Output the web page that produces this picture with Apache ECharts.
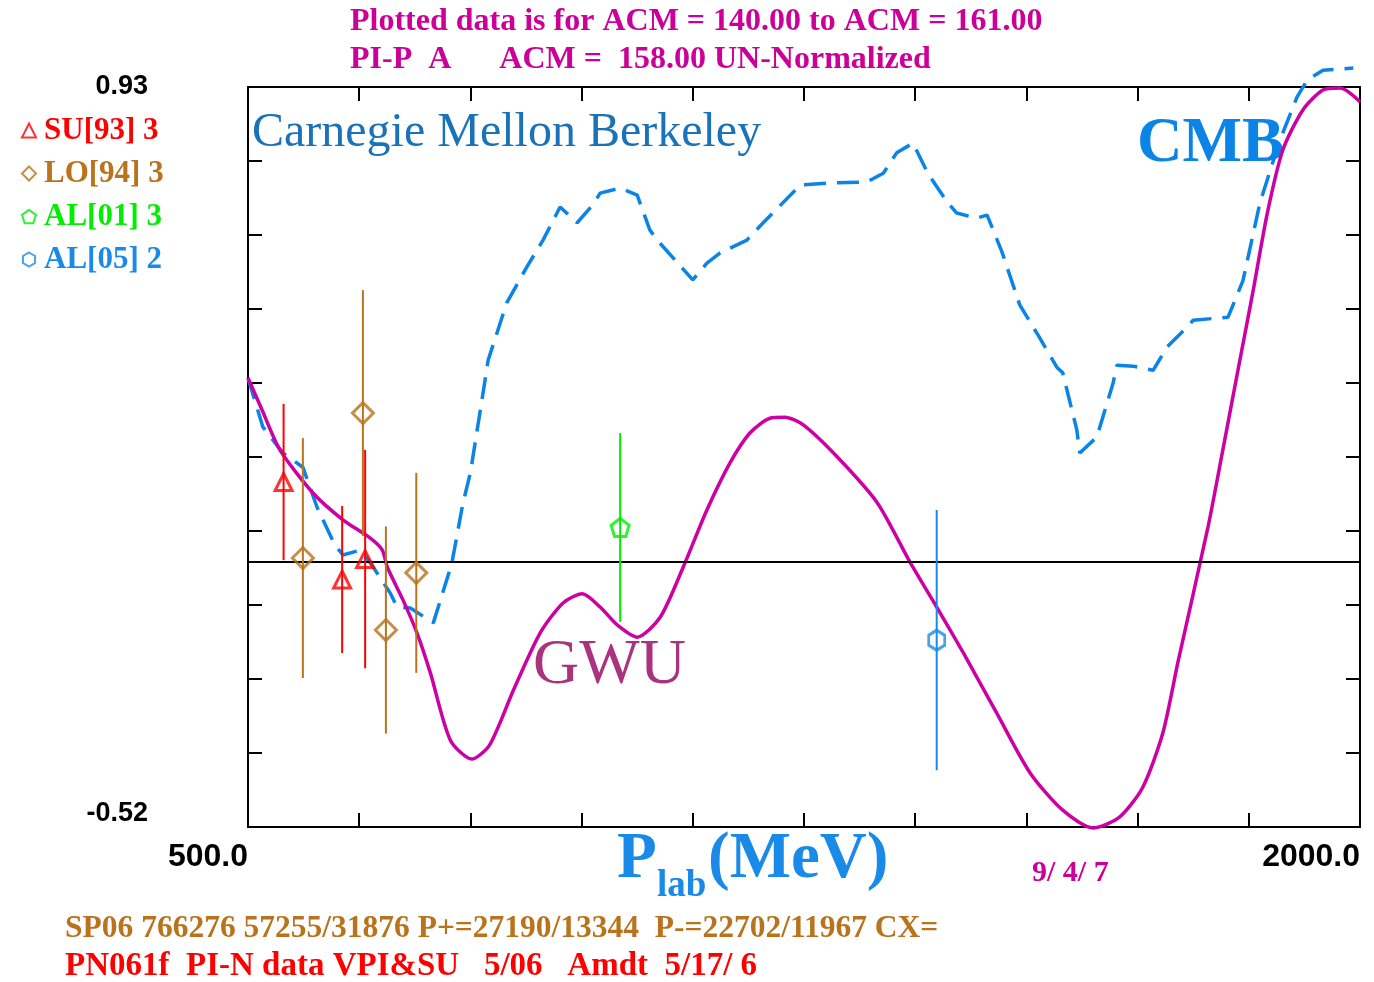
<!DOCTYPE html>
<html>
<head>
<meta charset="utf-8">
<title>PI-P A  ACM = 158.00</title>
<script src="https://cdn.jsdelivr.net/npm/echarts@6/dist/echarts.min.js"></script>
<style>
  html, body { margin: 0; padding: 0; background: #ffffff; }
  #chart { width: 1374px; height: 982px; }
</style>
</head>
<body>
<div id="chart"></div>
<script>
// ---- axis range and end labels ----
const xRange = [500, 2000];
const xStep = 150;
const xTickLabels = ['500.0', '2000.0'];
const yRange = [-0.52, 0.93];
const yStep = 0.145;
const yTickLabels = ['-0.52', '0.93'];

// ---- GWU solution (solid) : P_lab (MeV) vs A ----
const gwuP = [500, 519, 543, 588, 628, 665, 681, 688, 709, 728, 746, 773, 802, 826, 858, 894,
  925, 951, 975, 998, 1025, 1056, 1087, 1119, 1150, 1177, 1204, 1224, 1249, 1295, 1349, 1393,
  1429, 1465, 1510, 1555, 1599, 1640, 1676, 1707, 1734, 1755, 1795, 1815, 1838, 1856, 1875,
  1896, 1923, 1950, 1973, 2000];
const gwuA = [0.360, 0.297, 0.219, 0.134, 0.082, 0.046, 0.023, -0.011, -0.075, -0.140, -0.218,
  -0.350, -0.387, -0.359, -0.252, -0.140, -0.081, -0.063, -0.089, -0.124, -0.148, -0.109,
  -0.011, 0.101, 0.193, 0.252, 0.281, 0.283, 0.268, 0.205, 0.115, -0.001, -0.089, -0.179,
  -0.297, -0.414, -0.487, -0.522, -0.500, -0.442, -0.336, -0.193, 0.068, 0.219, 0.395, 0.532,
  0.683, 0.807, 0.885, 0.924, 0.928, 0.901];

// ---- CMB solution (dashed) ----
const cmbP = [500, 520, 547, 574, 593, 617, 628, 648, 655, 669, 692, 701, 719, 750, 768, 775,
  790, 800, 817, 824, 849, 876, 898, 921, 944, 965, 975, 1002, 1025, 1042, 1052, 1100, 1119,
  1137, 1173, 1195, 1245, 1285, 1335, 1357, 1375, 1397, 1417, 1443, 1456, 1483, 1497, 1517,
  1541, 1564, 1591, 1599, 1618, 1622, 1645, 1667, 1672, 1694, 1721, 1740, 1767, 1775, 1822,
  1842, 1865, 1892, 1915, 1929, 1950, 1991];
const cmbA = [0.360, 0.264, 0.213, 0.185, 0.107, 0.033, 0.013, 0.021, 0.017, -0.011, -0.062,
  -0.089, -0.091, -0.120, -0.036, -0.003, 0.115, 0.174, 0.330, 0.395, 0.507, 0.577, 0.630,
  0.695, 0.664, 0.699, 0.722, 0.732, 0.718, 0.650, 0.630, 0.552, 0.585, 0.605, 0.630, 0.664,
  0.738, 0.742, 0.744, 0.761, 0.801, 0.820, 0.761, 0.705, 0.683, 0.673, 0.679, 0.607, 0.503,
  0.448, 0.381, 0.370, 0.258, 0.213, 0.244, 0.350, 0.385, 0.383, 0.375, 0.421, 0.460, 0.473,
  0.479, 0.550, 0.703, 0.826, 0.910, 0.944, 0.963, 0.967];

// ---- measured points: P_lab, A, error ----
const su93P = [548, 627, 658];
const su93A = [0.156, -0.035, 0.005];
const su93E = [0.153, 0.144, 0.214];

const lo94P = [574, 655, 686, 727];
const lo94A = [0.007, 0.291, -0.134, -0.022];
const lo94E = [0.235, 0.241, 0.203, 0.196];

const al01P = [1002];
const al01A = [0.067];
const al01E = [0.185];

const al05P = [1429];
const al05A = [-0.154];
const al05E = [0.255];

const setNames = ['SU[93] 3', 'LO[94] 3', 'AL[01] 3', 'AL[05] 2'];

// ---- titles and notes ----
const titleLine1 = 'Plotted data is for ACM = 140.00 to ACM = 161.00';
const titleLine2 = 'PI-P  A      ACM =  158.00 UN-Normalized';
const footLine1 = 'SP06 766276 57255/31876 P+=27190/13344  P-=22702/11967 CX=';
const footLine2 = 'PN061f  PI-N data VPI&SU   5/06   Amdt  5/17/ 6';
const dateStamp = '9/ 4/ 7';

const MAGENTA = '#cc0099';
const CURVE = '#cc00a3';
const BLUE = '#0a84e6';
const RED = '#ff0000';
const BROWN = '#b8731c';
const GREEN = '#00ee00';
const LBLUE = '#1a8ae8';

const PENTAGON = 'path://M0,-10 L9.5,-3.1 L5.9,8.1 L-5.9,8.1 L-9.5,-3.1 Z';
const HEXAGON = 'path://M0,-10 L8.66,-5 L8.66,5 L0,10 L-8.66,5 L-8.66,-5 Z';

const zip = (xs, ys) => xs.map((x, i) => [x, ys[i]]);
const zip3 = (xs, ys, es) => xs.map((x, i) => [x, ys[i], es[i]]);

// vertical error bar through each measured point
function errorBars(name, p, a, e, color) {
  return {
    name: name + ' err',
    type: 'custom',
    z: 5,
    clip: false,
    data: zip3(p, a, e),
    encode: { x: 0, y: 1 },
    renderItem: function (params, api) {
      const x = api.value(0), y = api.value(1), err = api.value(2);
      const hi = api.coord([x, y + err]);
      const lo = api.coord([x, y - err]);
      return {
        type: 'line',
        shape: { x1: hi[0], y1: hi[1], x2: lo[0], y2: lo[1] },
        style: { stroke: color, lineWidth: 2 }
      };
    }
  };
}

// hollow marker for each measured point
function points(name, p, a, color, symbol, size) {
  return {
    name: name,
    type: 'scatter',
    z: 6,
    symbol: symbol,
    symbolSize: size,
    clip: false,
    itemStyle: { color: 'rgba(255,255,255,0)', borderColor: color, borderWidth: 3 },
    data: zip(p, a)
  };
}

const serif = '"Liberation Serif", "DejaVu Serif", serif';
const sans = '"Liberation Sans", Arial, sans-serif';

const chart = echarts.init(document.getElementById('chart'), null, { renderer: 'canvas' });

const axisLineStyle = { color: '#000', width: 2 };
const tickStyle = { show: true, inside: true, length: 14, lineStyle: { color: '#000', width: 2 } };

chart.setOption({
  backgroundColor: '#ffffff',
  animation: false,
  grid: { left: 248, top: 87, width: 1112, height: 740, containLabel: false },
  legend: {
    orient: 'vertical',
    left: 16,
    top: 110,
    itemWidth: 14,
    itemHeight: 14,
    itemGap: 12,
    selectedMode: false,
    data: [
      { name: setNames[0], textStyle: { color: RED } },
      { name: setNames[1], textStyle: { color: BROWN } },
      { name: setNames[2], textStyle: { color: GREEN } },
      { name: setNames[3], textStyle: { color: LBLUE } }
    ],
    textStyle: { fontFamily: serif, fontWeight: 'bold', fontSize: 31, padding: [0, 0, 0, 3] }
  },
  xAxis: [
    {
      type: 'value', min: xRange[0], max: xRange[1], interval: xStep, position: 'bottom',
      axisLine: { show: true, onZero: false, lineStyle: axisLineStyle },
      axisTick: tickStyle,
      splitLine: { show: false },
      axisLabel: {
        show: true, margin: 14, color: '#000', fontFamily: sans,
        fontWeight: 'bold', fontSize: 32, alignMinLabel: 'right', alignMaxLabel: 'right',
        showMinLabel: true, showMaxLabel: true, hideOverlap: false,
        formatter: function (v) {
          if (Math.abs(v - xRange[0]) < 1e-6) return xTickLabels[0];
          if (Math.abs(v - xRange[1]) < 1e-6) return xTickLabels[1];
          return '';
        }
      }
    },
    {
      type: 'value', min: xRange[0], max: xRange[1], interval: xStep, position: 'top',
      axisLine: { show: true, onZero: false, lineStyle: axisLineStyle },
      axisTick: tickStyle, axisLabel: { show: false }, splitLine: { show: false }
    }
  ],
  yAxis: [
    {
      type: 'value', min: yRange[0], max: yRange[1], interval: yStep, position: 'left',
      axisLine: { show: true, onZero: false, lineStyle: axisLineStyle },
      axisTick: tickStyle,
      splitLine: { show: false },
      axisLabel: {
        show: true, margin: 100, color: '#000', fontFamily: sans,
        fontWeight: 'bold', fontSize: 27, showMinLabel: true, showMaxLabel: true, hideOverlap: false,
        verticalAlignMinLabel: 'bottom', verticalAlignMaxLabel: 'middle',
        formatter: function (v) {
          if (Math.abs(v - yRange[0]) < 1e-6) return yTickLabels[0];
          if (Math.abs(v - yRange[1]) < 1e-6) return yTickLabels[1];
          return '';
        }
      }
    },
    {
      type: 'value', min: yRange[0], max: yRange[1], interval: yStep, position: 'right',
      axisLine: { show: true, onZero: false, lineStyle: axisLineStyle },
      axisTick: tickStyle, axisLabel: { show: false }, splitLine: { show: false }
    }
  ],
  series: [
    {
      name: 'GWU', type: 'line', z: 3, clip: false, smooth: 0.25, symbol: 'none',
      lineStyle: { color: CURVE, width: 3.5 },
      data: zip(gwuP, gwuA),
      markLine: {
        silent: true, symbol: 'none', label: { show: false },
        lineStyle: { color: '#000', width: 2, type: 'solid' },
        data: [{ yAxis: 0 }]
      }
    },
    {
      name: 'CMB', type: 'line', z: 2, clip: false, symbol: 'none',
      lineStyle: { color: BLUE, width: 3.5, type: [22, 11] },
      data: zip(cmbP, cmbA)
    },
    errorBars(setNames[0], su93P, su93A, su93E, RED),
    errorBars(setNames[1], lo94P, lo94A, lo94E, BROWN),
    errorBars(setNames[2], al01P, al01A, al01E, GREEN),
    errorBars(setNames[3], al05P, al05A, al05E, LBLUE),
    points(setNames[0], su93P, su93A, RED, 'triangle', 17),
    points(setNames[1], lo94P, lo94A, BROWN, 'diamond', 21),
    points(setNames[2], al01P, al01A, GREEN, PENTAGON, 18),
    points(setNames[3], al05P, al05A, LBLUE, HEXAGON, [16, 20])
  ],
  graphic: [
    { type: 'text', left: 350, top: 6, style: { text: titleLine1, fill: MAGENTA, font: 'bold 32px ' + serif } },
    { type: 'text', left: 350, top: 44, style: { text: titleLine2, fill: MAGENTA, font: 'bold 32px ' + serif } },
    { type: 'text', left: 252, top: 109, style: { text: 'Carnegie Mellon Berkeley', fill: '#1a73b8', font: '48px ' + serif } },
    { type: 'text', left: 1137, top: 113, style: { text: 'CMB', fill: BLUE, font: 'bold 63px ' + serif } },
    { type: 'text', left: 533, top: 634, style: { text: 'GWU', fill: '#aa3380', font: '64px ' + serif } },
    { type: 'text', left: 617, top: 828, style: { text: 'P', fill: LBLUE, font: 'bold 65px ' + serif } },
    { type: 'text', left: 657, top: 868, style: { text: 'lab', fill: LBLUE, font: 'bold 37px ' + serif } },
    { type: 'text', left: 708, top: 828, style: { text: '(MeV)', fill: LBLUE, font: 'bold 65px ' + serif } },
    { type: 'text', left: 1032, top: 858, style: { text: dateStamp, fill: MAGENTA, font: 'bold 30px ' + serif } },
    { type: 'text', left: 65, top: 913, style: { text: footLine1, fill: BROWN, font: 'bold 31.5px ' + serif } },
    { type: 'text', left: 65, top: 950, style: { text: footLine2, fill: RED, font: 'bold 33px ' + serif } }
  ]
});
</script>
</body>
</html>
